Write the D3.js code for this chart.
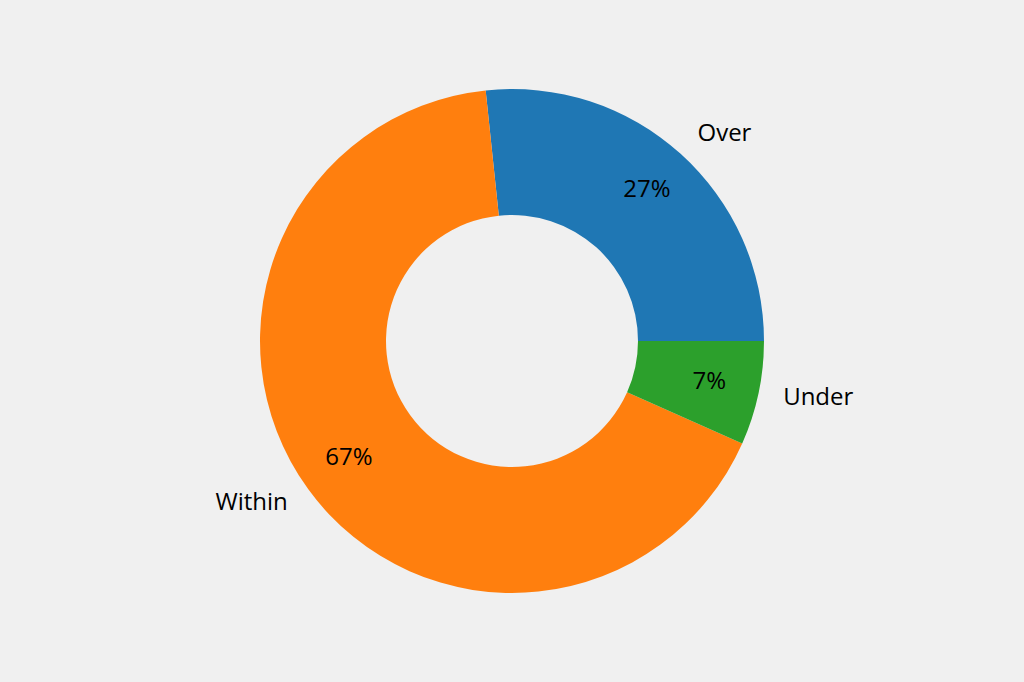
<!DOCTYPE html>
<html><head><meta charset="utf-8">
<script src="https://cdn.jsdelivr.net/npm/d3@7/dist/d3.min.js"></script>
<style>html,body{margin:0;padding:0;background:#f0f0f0;}svg{display:block;}</style>
</head><body>
<svg id="chart" width="1024" height="682"></svg>
<script>
const categories = ["Over", "Within", "Under"];
const values = [40, 100, 10];
const colors = ["#1f77b4", "#ff7f0e", "#2ca02c"];

const W = 1024, H = 682, cx = 512, cy = 341, R = 252, r0 = R * 0.5;
const svg = d3.select("#chart");
svg.append("rect").attr("width", W).attr("height", H).attr("fill", "#f0f0f0");
const g = svg.append("g").attr("transform", `translate(${cx},${cy})`);

const total = d3.sum(values);
// matplotlib: start at 3 o'clock, counterclockwise. d3 angles: 0 at 12 o'clock, clockwise.
const pie = d3.pie().sort(null).value(d => d)
  .startAngle(Math.PI / 2).endAngle(Math.PI / 2 - 2 * Math.PI);
const arcs = pie(values);
const arc = d3.arc().innerRadius(r0).outerRadius(R);

g.selectAll("path").data(arcs).enter().append("path")
  .attr("d", arc).attr("fill", (d, i) => colors[i]);

const font = "'Open Sans', sans-serif";
const fs = 24, baseOff = 6;
function pos(d, k) {
  const a = (d.startAngle + d.endAngle) / 2; // d3 angle
  return [Math.sin(a) * R * k, -Math.cos(a) * R * k];
}
g.selectAll("text.lbl").data(arcs).enter().append("text")
  .attr("class", "lbl")
  .attr("x", d => pos(d, 1.1)[0]).attr("y", d => pos(d, 1.1)[1] + baseOff)
  .attr("text-anchor", d => pos(d, 1.1)[0] >= 0 ? "start" : "end")
  .style("font-family", font).style("font-size", fs + "px").attr("fill", "#000")
  .text((d, i) => categories[i]);

g.selectAll("text.pct").data(arcs).enter().append("text")
  .attr("class", "pct")
  .attr("x", d => pos(d, 0.8)[0]).attr("y", d => pos(d, 0.8)[1] + baseOff)
  .attr("text-anchor", "middle")
  .style("font-family", font).style("font-size", fs + "px").attr("fill", "#000")
  .text(d => Math.round(d.value / total * 100) + "%");
</script>
</body></html>
